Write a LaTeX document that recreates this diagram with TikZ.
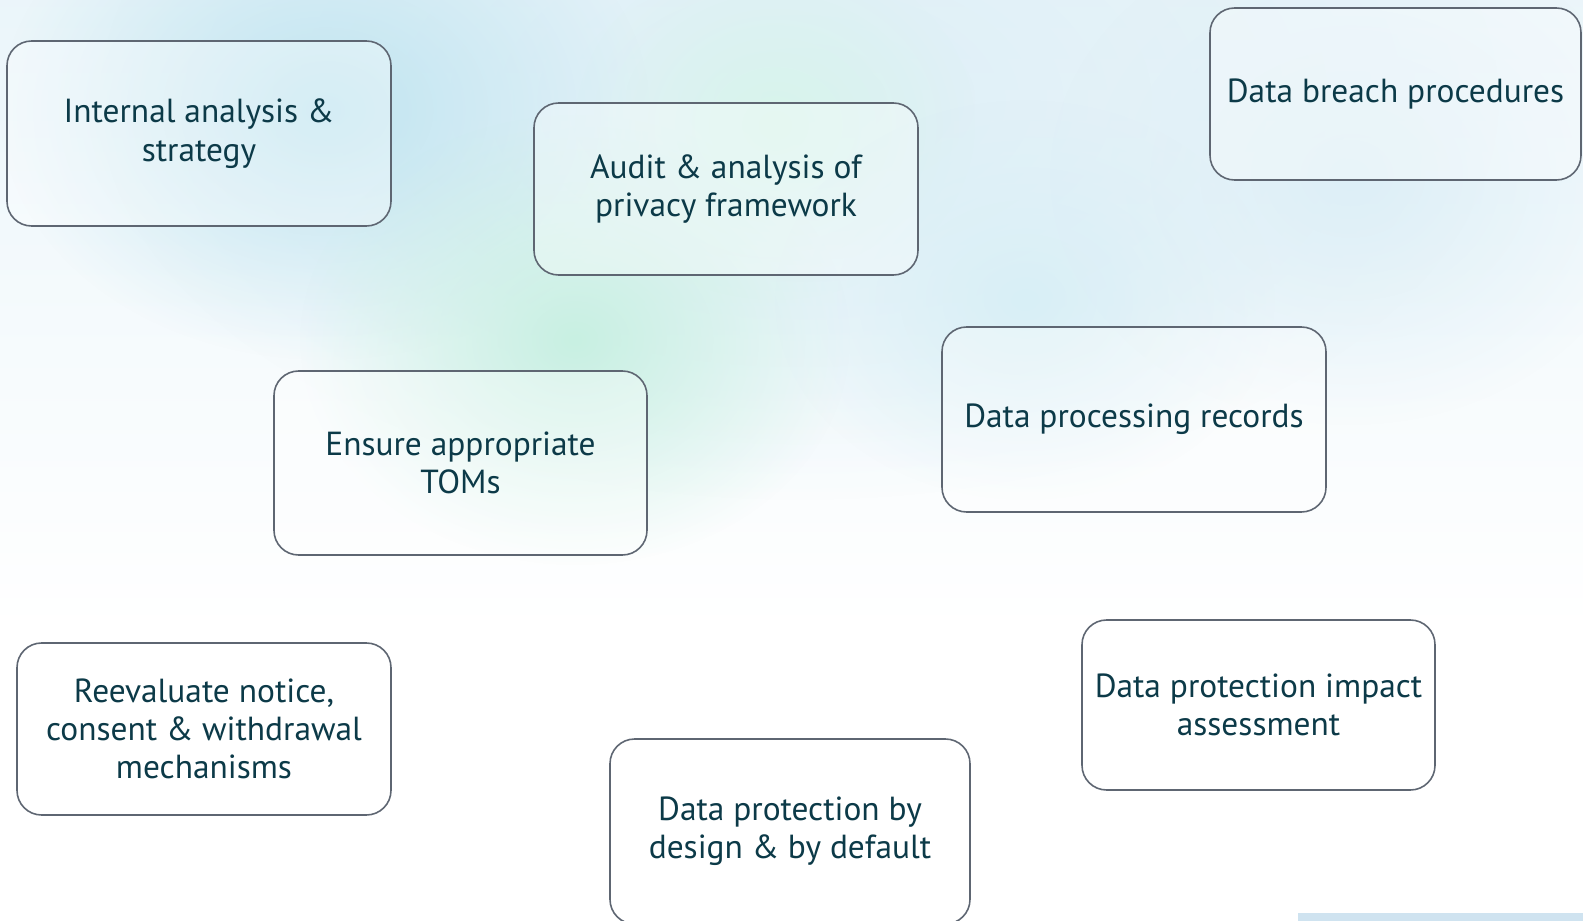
\documentclass[tikz,border=0pt]{standalone}
\usepackage{fontspec}
\setmainfont{PT Sans}
\usetikzlibrary{fadings}
\definecolor{inktxt}{HTML}{0C3A48}
\definecolor{edgegray}{HTML}{5E6672}
\definecolor{hazeblue}{HTML}{BFE4F0}
\definecolor{hazegreen}{HTML}{C8F0E2}
\definecolor{hazepale}{HTML}{DDEFF7}
\definecolor{stripblue}{HTML}{CFE3F0}
\tikzfading[name=softblob,inner color=transparent!0,outer color=transparent!100]
\begin{document}
\begin{tikzpicture}[every node/.style={font=\fontsize{19}{21.8}\selectfont,text=inktxt},
  stage/.style={draw=edgegray,line width=0.9pt,rounded corners=14pt,fill=white,fill opacity=0.35,text opacity=1,align=center,inner sep=2pt}]
  % canvas and soft background
  \useasboundingbox (0,0) rectangle (31.66,-18.42);
  \fill[white] (0,0) rectangle (31.66,-18.42);
  \shade[top color=hazepale!60,bottom color=white] (0,0) rectangle (31.66,-12.6);
  \fill[hazepale,path fading=softblob] (16,-2) ellipse (14 and 8);
  \fill[hazeblue,path fading=softblob] (6.5,-2.2) ellipse (6.5 and 5);
  \fill[hazegreen,path fading=softblob] (11.5,-6.8) ellipse (5.5 and 4.5);
  \fill[hazegreen!70,path fading=softblob] (15.5,-2.5) ellipse (4 and 3.5);
  \fill[hazeblue!60,path fading=softblob] (20.5,-6) ellipse (5 and 4);
  \fill[hazepale,path fading=softblob] (27,-3.5) ellipse (6 and 5);
  \fill[stripblue] (25.96,-18.26) rectangle (31.66,-18.42);
  % stages
  \node[stage,minimum width=7.68cm,minimum height=3.70cm] (intern) at (3.98,-2.67) {Internal analysis \&\\strategy};
  \node[stage,minimum width=7.68cm,minimum height=3.44cm] (audit) at (14.52,-3.78) {Audit \& analysis of\\privacy framework};
  \node[stage,minimum width=7.42cm,minimum height=3.44cm] (breach) at (27.91,-1.88) {Data breach procedures};
  \node[stage,minimum width=7.68cm,minimum height=3.70cm] (records) at (22.68,-8.39) {Data processing records};
  \node[stage,minimum width=7.46cm,minimum height=3.68cm] (toms) at (9.21,-9.26) {Ensure appropriate\\TOMs};
  \node[stage,minimum width=7.48cm,minimum height=3.44cm] (consent) at (4.08,-14.58) {Reevaluate notice,\\consent \& withdrawal\\mechanisms};
  \node[stage,minimum width=7.06cm,minimum height=3.40cm] (dpia) at (25.17,-14.10) {Data protection impact\\assessment};
  \node[stage,minimum width=7.20cm,minimum height=3.70cm] (bydesign) at (15.80,-16.63) {Data protection by\\design \& by default};
\end{tikzpicture}
\end{document}
